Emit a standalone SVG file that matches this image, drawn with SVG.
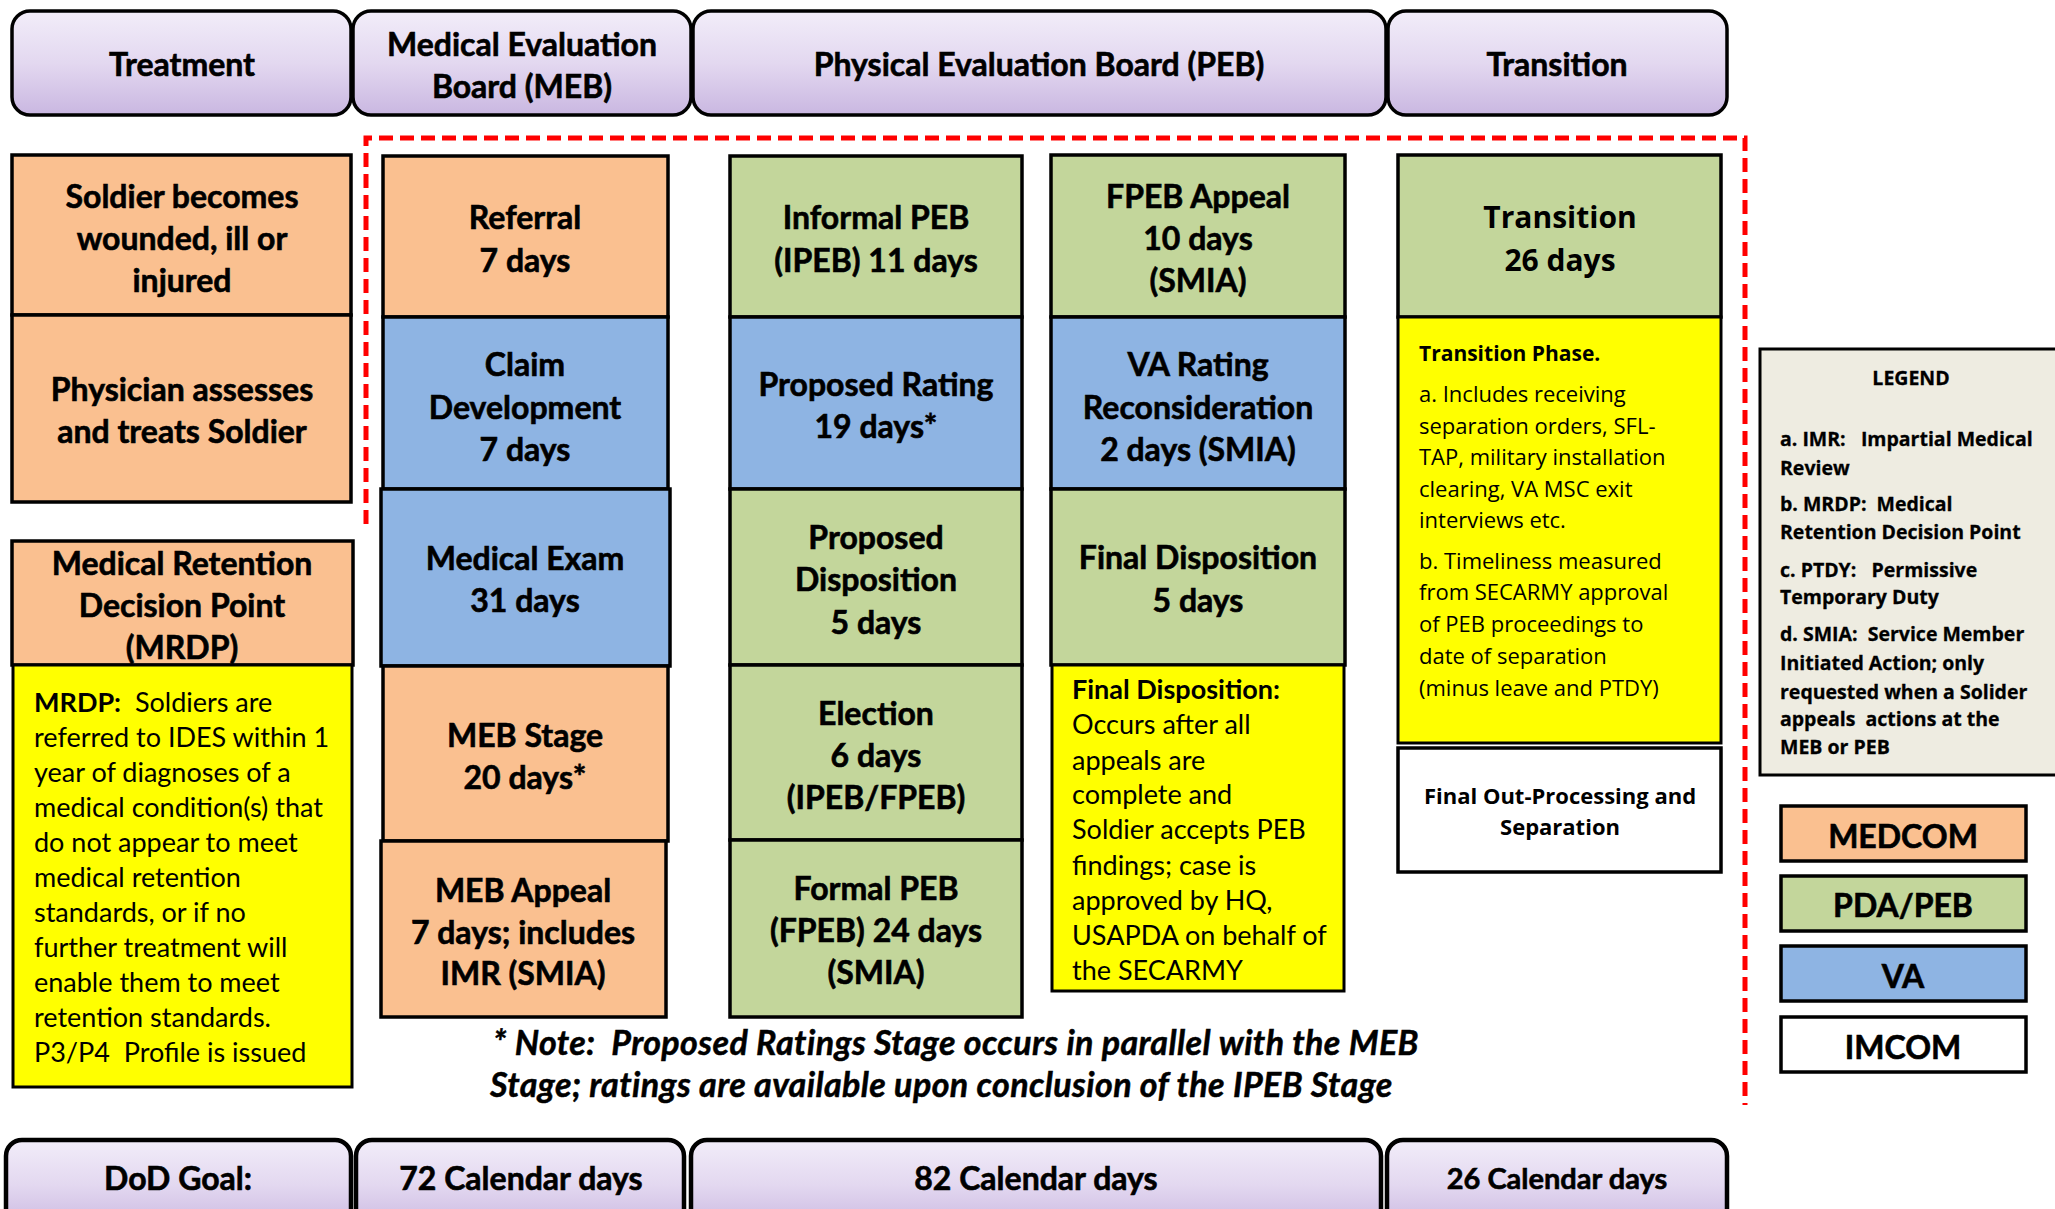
<svg xmlns="http://www.w3.org/2000/svg" width="2055" height="1209" viewBox="0 0 2055 1209">
<defs>
<linearGradient id="lav" x1="0" y1="0" x2="0" y2="1">
<stop offset="0" stop-color="#F2EDF9"/>
<stop offset="0.5" stop-color="#E3D8F0"/>
<stop offset="1" stop-color="#C9B7E1"/>
</linearGradient>
<style>
.hdr{fill:url(#lav);stroke:#000;stroke-width:3.5}
.med{fill:#FAC090;stroke:#000;stroke-width:3.5}
.pda{fill:#C3D69B;stroke:#000;stroke-width:3.5}
.va{fill:#8EB4E3;stroke:#000;stroke-width:3.5}
.yel{fill:#FFFF00;stroke:#000;stroke-width:3}
.imc{fill:#FFFFFF;stroke:#000;stroke-width:3.5}
.leg{fill:#EEECE1;stroke:#000;stroke-width:3}
text{white-space:pre}
.b{font-family:Lato,"Liberation Sans",sans-serif;font-weight:700;font-size:32px;fill:#000;stroke:#000;stroke-width:0.6;text-anchor:middle;dominant-baseline:central}
.r{font-family:Lato,"Liberation Sans",sans-serif;font-weight:400;font-size:27px;fill:#000;dominant-baseline:central}
.rb{font-weight:700}
.o{font-family:"Open Sans","DejaVu Sans",sans-serif;font-size:22px;fill:#000;dominant-baseline:central}
.ob{font-family:"Open Sans","DejaVu Sans",sans-serif;font-weight:700;fill:#000;dominant-baseline:central}
.lg{font-size:19.5px;stroke:#000;stroke-width:0.3}
.nt{font-family:Lato,"Liberation Sans",sans-serif;font-weight:700;font-style:italic;font-size:34px;letter-spacing:0.4px;fill:#000;stroke:#000;stroke-width:0.5;dominant-baseline:central}
.dash{fill:none;stroke:#FF0000;stroke-width:5;stroke-dasharray:14 7}
</style>
</defs>

<g id="headers">
<g id="h-treatment"><rect class="hdr" x="12" y="11" width="339" height="104" rx="18"/><text class="b" x="182" y="63">Treatment</text></g>
<g id="h-meb"><rect class="hdr" x="353" y="11" width="338" height="104" rx="18"/><text class="b" x="522" y="43">Medical Evaluation</text><text class="b" x="522" y="85">Board (MEB)</text></g>
<g id="h-peb"><rect class="hdr" x="693" y="11" width="693" height="104" rx="18"/><text class="b" x="1039" y="63">Physical Evaluation Board (PEB)</text></g>
<g id="h-transition"><rect class="hdr" x="1388" y="11" width="339" height="104" rx="18"/><text class="b" x="1557" y="63">Transition</text></g>
</g>

<g id="connectors">
<path class="dash" d="M366,524 L366,138 L1745,138 L1745,1105"/>
</g>

<g id="treatment-col">
<g id="soldier"><rect class="med" x="12" y="155" width="339" height="160"/><text class="b" x="182" y="195">Soldier becomes</text><text class="b" x="182" y="237">wounded, ill or</text><text class="b" x="182" y="279">injured</text></g>
<g id="physician"><rect class="med" x="12" y="315" width="339" height="187"/><text class="b" x="182" y="388">Physician assesses</text><text class="b" x="182" y="430">and treats Soldier</text></g>
<g id="mrdp"><rect class="med" x="12" y="541" width="341" height="124"/><text class="b" x="182" y="562">Medical Retention</text><text class="b" x="182" y="604">Decision Point</text><text class="b" x="182" y="646">(MRDP)</text></g>
<g id="mrdp-note"><rect class="yel" x="13" y="665" width="339" height="422"/>
<text class="r" x="34" y="701"><tspan class="rb">MRDP:</tspan>  Soldiers are</text>
<text class="r" x="34" y="736">referred to IDES within 1</text>
<text class="r" x="34" y="771">year of diagnoses of a</text>
<text class="r" x="34" y="806">medical condition(s) that</text>
<text class="r" x="34" y="841">do not appear to meet</text>
<text class="r" x="34" y="876">medical retention</text>
<text class="r" x="34" y="911">standards, or if no</text>
<text class="r" x="34" y="946">further treatment will</text>
<text class="r" x="34" y="981">enable them to meet</text>
<text class="r" x="34" y="1016">retention standards.</text>
<text class="r" x="34" y="1051">P3/P4  Profile is issued</text>
</g>
</g>

<g id="meb-col">
<g id="referral"><rect class="med" x="383" y="156" width="285" height="161"/><text class="b" x="525" y="216">Referral</text><text class="b" x="525" y="259">7 days</text></g>
<g id="claim"><rect class="va" x="383" y="317" width="285" height="172"/><text class="b" x="525" y="363">Claim</text><text class="b" x="525" y="406">Development</text><text class="b" x="525" y="448">7 days</text></g>
<g id="exam"><rect class="va" x="381" y="489" width="289" height="177"/><text class="b" x="525" y="557">Medical Exam</text><text class="b" x="525" y="599">31 days</text></g>
<g id="mebstage"><rect class="med" x="383" y="666" width="285" height="175"/><text class="b" x="525" y="734">MEB Stage</text><text class="b" x="525" y="776">20 days*</text></g>
<g id="mebappeal"><rect class="med" x="381" y="841" width="285" height="176"/><text class="b" x="523" y="889">MEB Appeal</text><text class="b" x="523" y="931">7 days; includes</text><text class="b" x="523" y="972">IMR (SMIA)</text></g>
</g>

<g id="peb-col1">
<g id="ipeb"><rect class="pda" x="730" y="156" width="292" height="161"/><text class="b" x="876" y="216">Informal PEB</text><text class="b" x="876" y="259">(IPEB) 11 days</text></g>
<g id="proprating"><rect class="va" x="730" y="317" width="292" height="172"/><text class="b" x="876" y="383">Proposed Rating</text><text class="b" x="876" y="425">19 days*</text></g>
<g id="propdisp"><rect class="pda" x="730" y="489" width="292" height="176"/><text class="b" x="876" y="536">Proposed</text><text class="b" x="876" y="578">Disposition</text><text class="b" x="876" y="621">5 days</text></g>
<g id="election"><rect class="pda" x="730" y="665" width="292" height="175"/><text class="b" x="876" y="712">Election</text><text class="b" x="876" y="754">6 days</text><text class="b" x="876" y="796">(IPEB/FPEB)</text></g>
<g id="fpeb"><rect class="pda" x="730" y="840" width="292" height="177"/><text class="b" x="876" y="887">Formal PEB</text><text class="b" x="876" y="929">(FPEB) 24 days</text><text class="b" x="876" y="971">(SMIA)</text></g>
</g>

<g id="peb-col2">
<g id="fpebappeal"><rect class="pda" x="1051" y="155" width="294" height="162"/><text class="b" x="1198" y="195">FPEB Appeal</text><text class="b" x="1198" y="237">10 days</text><text class="b" x="1198" y="279">(SMIA)</text></g>
<g id="varecon"><rect class="va" x="1051" y="317" width="294" height="172"/><text class="b" x="1198" y="363">VA Rating</text><text class="b" x="1198" y="406">Reconsideration</text><text class="b" x="1198" y="448">2 days (SMIA)</text></g>
<g id="finaldisp"><rect class="pda" x="1051" y="489" width="294" height="176"/><text class="b" x="1198" y="556">Final Disposition</text><text class="b" x="1198" y="599">5 days</text></g>
<g id="finaldisp-note"><rect class="yel" x="1052" y="665" width="292" height="326"/>
<text class="r rb" x="1072" y="688">Final Disposition:</text>
<text class="r" x="1072" y="723">Occurs after all</text>
<text class="r" x="1072" y="759">appeals are</text>
<text class="r" x="1072" y="793">complete and</text>
<text class="r" x="1072" y="828">Soldier accepts PEB</text>
<text class="r" x="1072" y="864">findings; case is</text>
<text class="r" x="1072" y="899">approved by HQ,</text>
<text class="r" x="1072" y="934">USAPDA on behalf of</text>
<text class="r" x="1072" y="969">the SECARMY</text>
</g>
</g>

<g id="transition-col">
<g id="transition"><rect class="pda" x="1398" y="155" width="323" height="162"/><text class="ob" x="1560" y="216" font-size="30" text-anchor="middle">Transition</text><text class="ob" x="1560" y="259" font-size="30" text-anchor="middle">26 days</text></g>
<g id="transition-note"><rect class="yel" x="1398" y="317" width="323" height="426"/>
<text class="ob" x="1419" y="353" font-size="21">Transition Phase.</text>
<text class="o" x="1419" y="393">a. Includes receiving</text>
<text class="o" x="1419" y="425">separation orders, SFL-</text>
<text class="o" x="1419" y="456">TAP, military installation</text>
<text class="o" x="1419" y="488">clearing, VA MSC exit</text>
<text class="o" x="1419" y="519">interviews etc.</text>
<text class="o" x="1419" y="560">b. Timeliness measured</text>
<text class="o" x="1419" y="591">from SECARMY approval</text>
<text class="o" x="1419" y="623">of PEB proceedings to</text>
<text class="o" x="1419" y="655">date of separation</text>
<text class="o" x="1419" y="687">(minus leave and PTDY)</text>
</g>
<g id="outproc"><rect class="imc" x="1398" y="748" width="323" height="124"/><text class="ob" x="1560" y="795" font-size="22" text-anchor="middle">Final Out-Processing and</text><text class="ob" x="1560" y="826" font-size="22" text-anchor="middle">Separation</text></g>
</g>

<g id="note"><text class="nt" x="493" y="1041">* Note:  Proposed Ratings Stage occurs in parallel with the MEB</text><text class="nt" x="490" y="1083">Stage; ratings are available upon conclusion of the IPEB Stage</text></g>

<g id="legend">
<g id="legend-box"><rect class="leg" x="1760" y="349" width="300" height="426"/>
<text class="ob lg" x="1911" y="377" text-anchor="middle">LEGEND</text>
<text class="ob lg" x="1780" y="438">a. IMR:   Impartial Medical</text>
<text class="ob lg" x="1780" y="467">Review</text>
<text class="ob lg" x="1780" y="503">b. MRDP:  Medical</text>
<text class="ob lg" x="1780" y="531">Retention Decision Point</text>
<text class="ob lg" x="1780" y="569">c. PTDY:   Permissive</text>
<text class="ob lg" x="1780" y="596">Temporary Duty</text>
<text class="ob lg" x="1780" y="633">d. SMIA:  Service Member</text>
<text class="ob lg" x="1780" y="662">Initiated Action; only</text>
<text class="ob lg" x="1780" y="691">requested when a Solider</text>
<text class="ob lg" x="1780" y="718">appeals  actions at the</text>
<text class="ob lg" x="1780" y="746">MEB or PEB</text>
</g>
<g id="leg-medcom"><rect class="med" x="1781" y="806" width="245" height="55"/><text class="b" x="1903" y="835">MEDCOM</text></g>
<g id="leg-pda"><rect class="pda" x="1781" y="876" width="245" height="55"/><text class="b" x="1903" y="904">PDA/PEB</text></g>
<g id="leg-va"><rect class="va" x="1781" y="946" width="245" height="55"/><text class="b" x="1903" y="975">VA</text></g>
<g id="leg-imcom"><rect class="imc" x="1781" y="1017" width="245" height="55"/><text class="b" x="1903" y="1046">IMCOM</text></g>
</g>

<g id="goals">
<g id="g-dod"><rect class="hdr" x="6" y="1140" width="345" height="90" rx="16" style="stroke-width:4.5"/><text class="b" x="178" y="1177">DoD Goal:</text></g>
<g id="g-72"><rect class="hdr" x="356" y="1140" width="328" height="90" rx="16" style="stroke-width:4.5"/><text class="b" x="521" y="1177">72 Calendar days</text></g>
<g id="g-82"><rect class="hdr" x="691" y="1140" width="690" height="90" rx="16" style="stroke-width:4.5"/><text class="b" x="1036" y="1177">82 Calendar days</text></g>
<g id="g-26"><rect class="hdr" x="1387" y="1140" width="340" height="90" rx="16" style="stroke-width:4.5"/><text class="b" x="1557" y="1177" style="font-size:29px">26 Calendar days</text></g>
</g>
</svg>
